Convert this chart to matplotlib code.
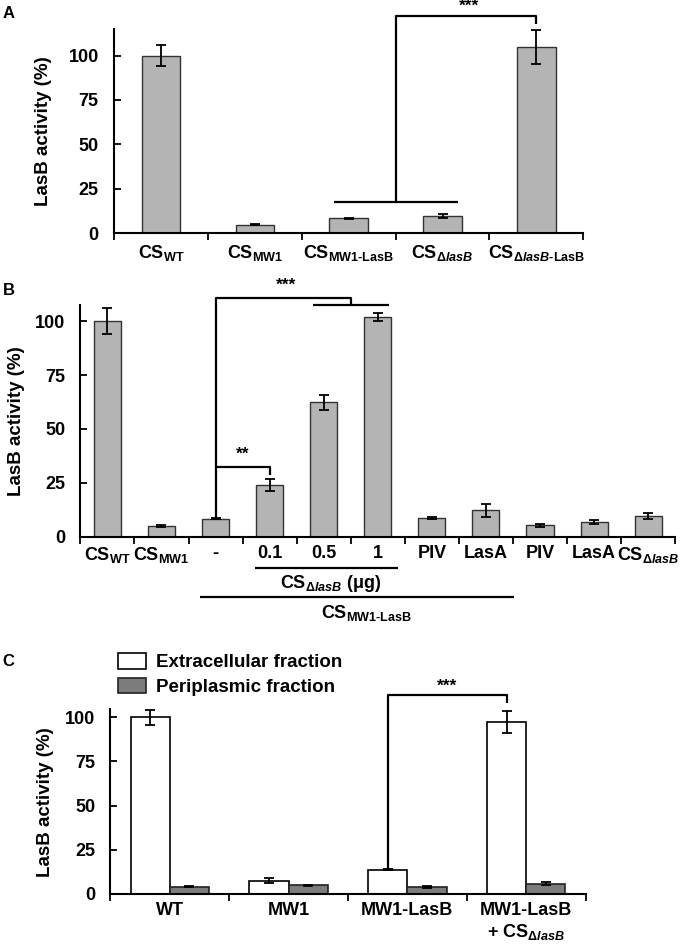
import matplotlib
matplotlib.use('Agg')
import matplotlib.pyplot as plt
from matplotlib.patches import Rectangle
import numpy as np

## Data ##
A_labels = [r'CS$_{\text{WT}}$', r'CS$_{\text{MW1}}$', r'CS$_{\text{MW1-LasB}}$',
            r'CS$_{\mathit{\Delta lasB}}$', r'CS$_{\mathit{\Delta lasB}\text{-LasB}}$']
A_vals = [100, 4.7, 8.2, 9.6, 105]
A_err = [6, 0.4, 0.5, 1.4, 9.5]

B_labels = [r'CS$_{\text{WT}}$', r'CS$_{\text{MW1}}$', '-', '0.1', '0.5', '1',
            'PIV', 'LasA', 'PIV', 'LasA', r'CS$_{\mathit{\Delta lasB}}$']
B_vals = [100, 4.8, 8.4, 24, 62.3, 101.8, 8.7, 12.3, 5.2, 6.7, 9.8]
B_err = [6, 0.4, 0.4, 2.7, 3.3, 1.8, 0.5, 3, 0.7, 0.8, 1.4]

C_labels = ['WT', 'MW1', 'MW1-LasB', 'MW1-LasB\n+ CS$_{\\mathit{\\Delta lasB}}$']
C_ext = [100, 7.4, 13.8, 97.3]
C_ext_err = [4.2, 1.4, 0.3, 6.4]
C_peri = [4, 4.8, 4, 5.8]
C_peri_err = [0.3, 0.3, 0.5, 0.8]
C_series = ['Extracellular fraction', 'Periplasmic fraction']

## Style ##
FONT = 'Liberation Sans'
plt.rcParams['font.family'] = [FONT, 'DejaVu Sans']
plt.rcParams['font.weight'] = 'bold'
plt.rcParams['mathtext.fontset'] = 'custom'
plt.rcParams['mathtext.rm'] = FONT + ':bold'
plt.rcParams['mathtext.bf'] = FONT + ':bold'
plt.rcParams['mathtext.it'] = FONT + ':italic:bold'

BAR = '#b4b4b4'
DARK = '#7c7c7c'
EDGE = '#333333'
TICK_FS = 13
LABEL_FS = 13.5
STAR_FS = 12.5
LW = 1.6


def style_axis(ax, n, labels, ymax, label_pad=7):
    ax.set_xlim(-0.5, n - 0.5)
    ax.set_ylim(0, ymax)
    ax.spines['right'].set_visible(False)
    ax.spines['top'].set_visible(False)
    ax.spines['left'].set_linewidth(1.5)
    ax.spines['bottom'].set_linewidth(1.5)
    ax.set_xticks(np.arange(n + 1) - 0.5)
    ax.set_xticklabels([])
    ax.set_xticks(np.arange(n), minor=True)
    ax.set_xticklabels(labels, minor=True, fontsize=TICK_FS, fontweight='bold')
    ax.tick_params(axis='x', which='major', direction='out', length=5, width=1.3)
    ax.tick_params(axis='x', which='minor', length=0, pad=label_pad)
    ax.set_yticks([0, 25, 50, 75, 100])
    ax.tick_params(axis='y', direction='in', length=5, width=1.3, pad=11,
                   labelsize=TICK_FS)
    for t in ax.get_yticklabels():
        t.set_fontweight('bold')


def line(ax, xs, ys):
    ax.plot(xs, ys, color='black', lw=LW, clip_on=False, solid_capstyle='butt')


fig = plt.figure(figsize=(6.93, 9.48), dpi=100)

# ---- Panel A ----
axA = fig.add_axes([0.1645, 0.7542, 0.6772, 0.2152])
xA = np.arange(len(A_vals))
axA.bar(xA, A_vals, 0.41, color=BAR, edgecolor=EDGE, lw=1)
axA.errorbar(xA, A_vals, yerr=A_err, fmt='none', ecolor='black', elinewidth=1.3,
             capsize=3.5, capthick=1.3)
style_axis(axA, len(A_vals), A_labels, 115)
axA.set_ylabel('LasB activity (%)', fontsize=LABEL_FS, fontweight='bold', labelpad=12)
line(axA, [2.5 - 0.66, 2.5 + 0.66], [17.4, 17.4])
line(axA, [2.5, 2.5, 4, 4], [17.4, 122.5, 122.5, 117.6])
axA.text(3.28, 128, '***', ha='center', va='center', fontsize=STAR_FS, fontweight='bold')
fig.text(0.004, 0.986, 'A', fontsize=12, fontweight='bold', va='center')

# ---- Panel B ----
axB = fig.add_axes([0.116, 0.4339, 0.8583, 0.2444])
xB = np.arange(len(B_vals))
axB.bar(xB, B_vals, 0.5, color=BAR, edgecolor=EDGE, lw=1)
axB.errorbar(xB, B_vals, yerr=B_err, fmt='none', ecolor='black', elinewidth=1.3,
             capsize=3.5, capthick=1.3)
style_axis(axB, len(B_vals), B_labels, 107.5, label_pad=6)
axB.set_ylabel('LasB activity (%)', fontsize=LABEL_FS, fontweight='bold', labelpad=7)
# significance brackets
line(axB, [2, 2, 4.5, 4.5], [B_vals[2], 110.8, 110.8, 107.4])
line(axB, [3.8, 5.2], [107.4, 107.4])
axB.text(3.3, 116.6, '***', ha='center', va='center', fontsize=STAR_FS, fontweight='bold')
line(axB, [2, 3, 3], [32.2, 32.2, 28.7])
axB.text(2.5, 38, '**', ha='center', va='center', fontsize=STAR_FS, fontweight='bold')
# group lines under the axis
line(axB, [3 - 0.27, 5 + 0.37], [-14.4, -14.4])
axB.text(4.12, -21.5, r'CS$_{\mathit{\Delta lasB}}$ (μg)', ha='center', va='center',
         fontsize=TICK_FS, fontweight='bold')
line(axB, [2 - 0.29, 7 + 0.51], [-28.0, -28.0])
axB.text(4.8, -35.5, r'CS$_{\text{MW1-LasB}}$', ha='center', va='center',
         fontsize=TICK_FS, fontweight='bold')
fig.text(0.004, 0.694, 'B', fontsize=12, fontweight='bold', va='center')

# ---- Panel C ----
axC = fig.add_axes([0.1594, 0.057, 0.6855, 0.1948])
xC = np.arange(len(C_ext))
w = 0.33
axC.bar(xC - w / 2, C_ext, w, color='white', edgecolor='black', lw=1.2,
        label=C_series[0])
axC.bar(xC + w / 2, C_peri, w, color=DARK, edgecolor='#222222', lw=1.2,
        label=C_series[1])
axC.errorbar(xC - w / 2, C_ext, yerr=C_ext_err, fmt='none', ecolor='black',
             elinewidth=1.3, capsize=3.5, capthick=1.3)
axC.errorbar(xC + w / 2, C_peri, yerr=C_peri_err, fmt='none', ecolor='black',
             elinewidth=1.3, capsize=3.5, capthick=1.3)
style_axis(axC, len(C_ext), C_labels, 104.5, label_pad=6)
axC.set_ylabel('LasB activity (%)', fontsize=LABEL_FS, fontweight='bold', labelpad=8)
line(axC, [2 - w / 2, 2 - w / 2, 3 - w / 2, 3 - w / 2],
     [C_ext[2], 112.5, 112.5, 108.3])
axC.text(2.5 - w / 2, 117.4, '***', ha='center', va='center', fontsize=STAR_FS,
         fontweight='bold')
handles = [Rectangle((0, 0), 1, 1, facecolor='white', edgecolor='black', lw=1.2),
           Rectangle((0, 0), 1, 1, facecolor=DARK, edgecolor='#222222', lw=1.2)]
fig.legend(handles, C_series, loc='upper left', bbox_to_anchor=(117.7 / 693, 1 - 653 / 948),
           frameon=False, handlelength=1.5, handleheight=0.9,
           handletextpad=0.55, labelspacing=0.35, borderpad=0, borderaxespad=0,
           prop={'weight': 'bold', 'size': LABEL_FS})
fig.text(0.004, 1 - 662 / 948, 'C', fontsize=12, fontweight='bold', va='center')

fig.savefig('out.png', dpi=100)
